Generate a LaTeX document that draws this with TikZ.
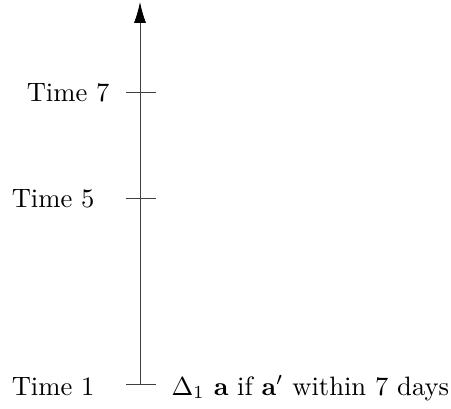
\documentclass[tikz,border=0pt]{standalone}
\usetikzlibrary{arrows.meta}
\begin{document}
\begin{tikzpicture}[x=0.3836pt,y=-0.3836pt,
  lbl/.style={inner sep=0pt,font=\fontsize{10.2}{12}\selectfont},
  tickmark/.style={line width=0.3pt,black!75},
  axisline/.style={line width=0.3pt,black!75,-{Latex[length=8pt,width=4.6pt,black]}}]
\useasboundingbox (0,0) rectangle (451,408);
\coordinate (bot) at (140,384);
\coordinate (top) at (140,2);
\coordinate (t7) at (140,92);
\coordinate (t5) at (140,198);
\draw[axisline] (bot) -- (top);
\draw[tickmark] ([xshift=-14*0.3836pt]t7) -- ([xshift=16*0.3836pt]t7);
\draw[tickmark] ([xshift=-14*0.3836pt]t5) -- ([xshift=16*0.3836pt]t5);
\draw[tickmark] ([xshift=-14*0.3836pt]bot) -- ([xshift=16*0.3836pt]bot);
\node[lbl,anchor=base east] (l7) at (110,101) {Time 7};
\node[lbl,anchor=base east] (l5) at (95,207) {Time 5};
\node[lbl,anchor=base east] (l1) at (95,395) {Time 1};
\node[lbl,anchor=base west] (r1) at (171,395) {$\Delta_1$ $\mathbf{a}$ if $\mathbf{a}'$ within 7 days};
\end{tikzpicture}
\end{document}
